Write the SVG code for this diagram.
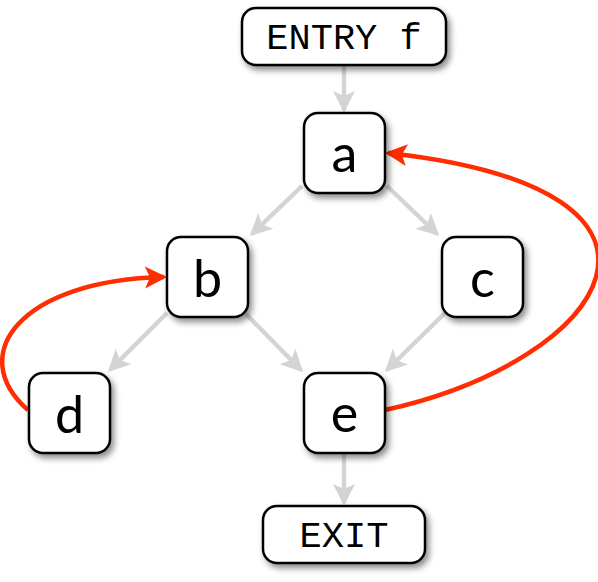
<svg xmlns="http://www.w3.org/2000/svg" width="598" height="582" viewBox="0 0 598 582">
<style>
.box{fill:#fff;stroke:#000;stroke-width:2.5;filter:url(#sh)}
.lbl{font-family:Lato,"Open Sans",sans-serif;font-size:52px;text-anchor:middle;fill:#000}
.mono{font-family:"Liberation Mono","Courier New",monospace;font-size:37px;text-anchor:middle;fill:#000}
.g{stroke:#d4d4d4;stroke-width:4.5;fill:none;marker-end:url(#ga)}
.r{stroke:#ff2d00;stroke-width:4.5;fill:none;marker-end:url(#ra)}
</style>
<defs>
<filter id="sh" x="-30%" y="-30%" width="160%" height="160%">
<feDropShadow dx="3" dy="4" stdDeviation="3" flood-color="#000" flood-opacity="0.45"/>
</filter>
<marker id="ga" markerUnits="userSpaceOnUse" markerWidth="24" markerHeight="24" viewBox="0 -12 24 24" refX="19" refY="0" orient="auto" overflow="visible">
<path d="M0,-11 L22,0 L0,11 L5,0 z" fill="#d4d4d4"/>
</marker>
<marker id="ra" markerUnits="userSpaceOnUse" markerWidth="24" markerHeight="24" viewBox="0 -12 24 24" refX="19" refY="0" orient="auto" overflow="visible">
<path d="M0,-11 L22,0 L0,11 L5,0 z" fill="#ff2d00"/>
</marker>
</defs>
<g id="connectors">
<line class="g" x1="344" y1="66" x2="344" y2="110"/>
<line class="g" x1="302" y1="186" x2="252" y2="234"/>
<line class="g" x1="387" y1="186" x2="437" y2="234"/>
<line class="g" x1="167" y1="313" x2="110" y2="370"/>
<line class="g" x1="246" y1="314" x2="301" y2="370"/>
<line class="g" x1="445" y1="313" x2="387" y2="370"/>
<line class="g" x1="344" y1="454" x2="344" y2="503"/>
<path class="r" d="M28,410 C-35,355 20,280 164,277"/>
<path class="r" d="M385,410 C610,360 722,190 388,153"/>
</g>
<g id="entry"><rect class="box" x="242" y="8" width="204" height="57" rx="14"/><text class="mono" x="344" y="49">ENTRY f</text></g>
<g id="a"><rect class="box" x="304" y="113" width="81" height="80" rx="14"/><text class="lbl" x="344.5" y="172">a</text></g>
<g id="b"><rect class="box" x="167" y="237" width="81" height="80" rx="14"/><text class="lbl" x="207.5" y="297">b</text></g>
<g id="c"><rect class="box" x="442" y="237" width="81" height="80" rx="14"/><text class="lbl" x="482.5" y="297">c</text></g>
<g id="d"><rect class="box" x="29" y="373" width="81" height="80" rx="14"/><text class="lbl" x="69.5" y="433">d</text></g>
<g id="e"><rect class="box" x="304" y="373" width="81" height="80" rx="14"/><text class="lbl" x="344.5" y="432">e</text></g>
<g id="exit"><rect class="box" x="263" y="506" width="162" height="57" rx="14"/><text class="mono" x="344" y="547">EXIT</text></g>
</svg>
